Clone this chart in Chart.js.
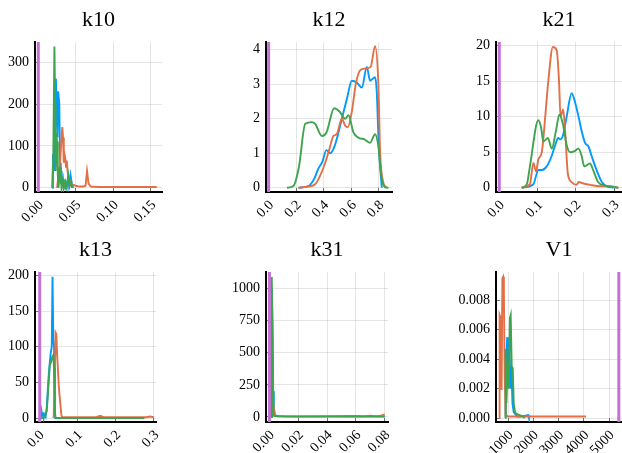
<!DOCTYPE html>
<html>
<head>
<meta charset="utf-8">
<script src="https://cdn.jsdelivr.net/npm/chart.js@4.4.1/dist/chart.umd.min.js"></script>
<style>
html, body { margin: 0; padding: 0; background: #fff; overflow: hidden; }
#wrap { position: relative; width: 622px; height: 453px; overflow: hidden; }
canvas { position: absolute; }
</style>
</head>
<body>
<div id="wrap"></div>
<script>
// chain colours (julia default palette)
const colBlue = '#009AFA', colOrange = '#E36F47', colGreen = '#3EA44E', colPurple = '#C371D2';
const SERIF = "'Liberation Serif', 'DejaVu Serif', serif";

// ---- k10 ----
const k10Blue = [[0.0185,0],[0.0195,80],[0.021,40],[0.0225,150],[0.0235,260],[0.0255,120],[0.0265,230],[0.028,200],[0.029,60],[0.030,10],[0.031,40],[0.032,5],[0.034,15],[0.036,0],[0.038,10],[0.040,25],[0.041,5],[0.043,30],[0.045,5],[0.047,0]];
const k10Orange = [[0.025,0],[0.027,30],[0.029,60],[0.031,120],[0.032,145],[0.033,120],[0.034,60],[0.035,80],[0.036,70],[0.037,50],[0.038,65],[0.039,40],[0.041,20],[0.042,5],[0.045,8],[0.050,5],[0.055,3],[0.060,3],[0.063,5],[0.065,40],[0.067,10],[0.070,3],[0.080,2],[0.10,2],[0.12,2],[0.14,2],[0.158,2]];
const k10Green = [[0.0185,0],[0.020,80],[0.0215,337],[0.0225,200],[0.023,40],[0.024,130],[0.025,110],[0.026,30],[0.027,0],[0.029,50],[0.030,20],[0.031,0],[0.033,20],[0.034,0],[0.036,15],[0.038,0],[0.040,30],[0.042,5],[0.044,15],[0.045,0]];
const k10True = 0.0;
const k10XTicks = [0, 0.05, 0.10, 0.15], k10XLabels = ['0.00', '0.05', '0.10', '0.15'];
const k10YTicks = [0, 100, 200, 300], k10YLabels = ['0', '100', '200', '300'];

// ---- k12 ----
const k12Blue = [[0.217,0],[0.29,0.05],[0.33,0.25],[0.362,0.56],[0.39,0.75],[0.42,1.09],[0.447,1.0],[0.483,1.25],[0.532,2.0],[0.57,2.6],[0.604,3.1],[0.64,3.05],[0.677,2.9],[0.713,3.5],[0.737,3.1],[0.773,3.2],[0.785,2.8],[0.80,1.2],[0.822,0]];
const k12Orange = [[0.217,0],[0.28,0.03],[0.338,0.1],[0.40,0.6],[0.44,1.1],[0.471,1.5],[0.495,1.55],[0.532,2.0],[0.556,1.8],[0.575,1.75],[0.604,2.2],[0.633,3.0],[0.664,3.4],[0.70,3.45],[0.741,3.5],[0.773,4.1],[0.797,3.0],[0.81,1.0],[0.83,0.2],[0.855,0]];
const k12Green = [[0.133,0],[0.18,0.05],[0.22,0.6],[0.266,1.85],[0.314,1.9],[0.338,1.85],[0.387,1.5],[0.42,1.6],[0.476,2.3],[0.516,2.2],[0.556,2.0],[0.58,2.1],[0.616,1.6],[0.652,1.45],[0.696,1.4],[0.737,1.3],[0.773,1.55],[0.797,1.2],[0.82,0.3],[0.845,0.02],[0.87,0]];
const k12True = 0.0;
const k12XTicks = [0, 0.2, 0.4, 0.6, 0.8], k12XLabels = ['0.0', '0.2', '0.4', '0.6', '0.8'];
const k12YTicks = [0, 1, 2, 3, 4], k12YLabels = ['0', '1', '2', '3', '4'];

// ---- k21 ----
const k21Blue = [[0.0586,0],[0.089,0.5],[0.102,2.5],[0.111,2.5],[0.124,3.0],[0.137,4.5],[0.146,6.0],[0.154,7.0],[0.159,6.8],[0.167,7.5],[0.176,10],[0.189,13.3],[0.198,12],[0.207,10],[0.215,8],[0.224,6.3],[0.233,5.8],[0.241,4.5],[0.254,2.5],[0.268,0.8],[0.281,0.2],[0.298,0]];
const k21Orange = [[0.0586,0],[0.08,0.5],[0.089,3.5],[0.096,2.3],[0.102,4],[0.111,5],[0.12,10],[0.128,15],[0.14,19.8],[0.15,19.3],[0.156,15],[0.16,10],[0.167,11],[0.172,8],[0.179,2],[0.189,0.8],[0.202,0.4],[0.207,0.8],[0.22,0.6],[0.237,0.4],[0.263,0.2],[0.29,0.2],[0.311,0]];
const k21Green = [[0.0586,0],[0.072,0.5],[0.08,3],[0.102,9.5],[0.109,8.5],[0.115,6.5],[0.127,7],[0.137,5.5],[0.148,8],[0.157,10.3],[0.166,9],[0.176,6],[0.185,5],[0.198,5.2],[0.207,5.5],[0.215,4.5],[0.222,3],[0.237,3.4],[0.245,2.5],[0.258,0.8],[0.276,0.3],[0.298,0.1],[0.311,0]];
const k21True = 0.0;
const k21XTicks = [0, 0.1, 0.2, 0.3], k21XLabels = ['0.0', '0.1', '0.2', '0.3'];
const k21YTicks = [0, 5, 10, 15, 20], k21YLabels = ['0', '5', '10', '15', '20'];

// ---- k13 ----
const k13Blue = [[0.002,8],[0.004,2],[0.006,10],[0.008,3],[0.010,8],[0.012,0],[0.014,5],[0.017,2],[0.020,15],[0.025,60],[0.030,90],[0.033,100],[0.035,198],[0.037,110],[0.039,100],[0.041,20],[0.042,0],[0.10,0],[0.20,0],[0.27,0]];
const k13Orange = [[0.038,0],[0.041,60],[0.043,120],[0.045,118],[0.047,90],[0.052,40],[0.058,5],[0.060,1],[0.10,1],[0.15,1.5],[0.16,3],[0.17,1],[0.25,1],[0.28,1],[0.29,2],[0.30,1]];
const k13Green = [[0.0,0],[0.010,0],[0.015,2],[0.020,10],[0.025,50],[0.028,75],[0.031,78],[0.034,85],[0.037,88],[0.039,70],[0.041,10],[0.043,0],[0.275,0]];
const k13True = 0.0015;
const k13XTicks = [0, 0.1, 0.2, 0.3], k13XLabels = ['0.0', '0.1', '0.2', '0.3'];
const k13YTicks = [0, 50, 100, 150, 200], k13YLabels = ['0', '50', '100', '150', '200'];

// ---- k31 ----
const k31Blue = [[0.0012,0],[0.0017,1000],[0.0025,200],[0.003,20],[0.004,15],[0.006,5],[0.08,3]];
const k31Orange = [[0.0012,0],[0.0018,900],[0.0026,100],[0.004,10],[0.01,5],[0.02,3],[0.04,5],[0.06,8],[0.065,5],[0.07,10],[0.075,5],[0.078,12],[0.08,20]];
const k31Green = [[0.0012,0],[0.0016,1090],[0.0022,600],[0.0028,10],[0.005,5],[0.08,5]];
const k31True = 0.0;
const k31XTicks = [0, 0.02, 0.04, 0.06, 0.08], k31XLabels = ['0.00', '0.02', '0.04', '0.06', '0.08'];
const k31YTicks = [0, 250, 500, 750, 1000], k31YLabels = ['0', '250', '500', '750', '1000'];

// ---- V1 ----
const v1Blue = [[900,0],[930,0.004],[960,0.0055],[990,0.003],[1020,0.0052],[1060,0.004],[1100,0.002],[1130,0.0035],[1170,0.001],[1220,0.0004],[1270,0.0003],[1350,0.0001],[1500,0.0001],[1790,0.0002],[1820,0]];
const v1Orange = [[640,0],[660,0.007],[700,0.0068],[740,0.0019],[770,0.0095],[800,0.0096],[830,0.0085],[860,0.003],[900,0.0002],[1000,0.0001],[2000,0.0001],[3000,0.0001],[4080,0.0001]];
const v1Green = [[880,0],[900,0.0047],[930,0.001],[970,0.003],[1000,0.004],[1030,0.002],[1070,0.0068],[1100,0.007],[1140,0.0035],[1180,0.0034],[1220,0.001],[1270,0.0004],[1310,0.0003],[1450,0.0002],[1600,0.0001],[1650,0]];
const v1True = 5380;
const v1XTicks = [1000, 2000, 3000, 4000, 5000], v1XLabels = ['1000', '2000', '3000', '4000', '5000'];
const v1YTicks = [0, 0.002, 0.004, 0.006, 0.008], v1YLabels = ['0.000', '0.002', '0.004', '0.006', '0.008'];

const wrap = document.getElementById('wrap');
const YW = 60, XH = 40, TOP = 42, PH = 150, RP = 14;

// title centred over the plot area
const panelTitle = {
  id: 'panelTitle',
  afterDraw(chart, args, o) {
    const ca = chart.chartArea, ctx = chart.ctx;
    ctx.save();
    ctx.font = '22px ' + SERIF;
    ctx.fillStyle = '#000';
    ctx.textAlign = 'center';
    ctx.textBaseline = 'middle';
    ctx.fillText(o.text, (ca.left + ca.right) / 2, 20);
    ctx.restore();
  }
};

function axisOpts(min, max, ticks, labels, isX) {
  return {
    type: 'linear', min: min, max: max,
    afterBuildTicks: s => { s.ticks = ticks.map(v => ({ value: v })); },
    afterFit: s => { if (isX) s.height = XH; else s.width = YW; },
    ticks: {
      autoSkip: false,
      color: '#000',
      font: { family: SERIF, size: 14 },
      padding: isX ? 9 : 10,
      maxRotation: isX ? 45 : 0, minRotation: isX ? 45 : 0,
      labelOffset: isX ? 3 : 0,
      callback: (v, i) => labels[i]
    },
    grid: { color: 'rgba(0,0,0,0.1)', lineWidth: 1, tickLength: -4, tickColor: 'rgba(0,0,0,0.5)', tickWidth: 1 },
    border: { display: true, color: '#000', width: 2 }
  };
}

function makePanel(p) {
  const c = document.createElement('canvas');
  c.width = YW + p.w + RP;
  c.height = TOP + PH + XH;
  c.style.left = (p.left - YW) + 'px';
  c.style.top = p.top + 'px';
  wrap.appendChild(c);

  // later chains are drawn on top (higher order = drawn first)
  const lines = [[p.blue, colBlue, 4], [p.orange, colOrange, 3], [p.green, colGreen, 2]];
  const datasets = lines.map(l => ({
    data: l[0].map(q => ({ x: q[0], y: q[1] })),
    borderColor: l[1], order: l[2], borderWidth: 1.9, pointRadius: 0, fill: false,
    tension: p.smooth ? 0.4 : 0, cubicInterpolationMode: p.smooth ? 'monotone' : 'default'
  }));
  // vertical reference line
  datasets.push({
    data: [{ x: p.vline, y: p.ymin }, { x: p.vline, y: p.ymax }],
    borderColor: colPurple, order: 1, borderWidth: 3, pointRadius: 0, fill: false
  });

  new Chart(c, {
    type: 'line',
    data: { datasets: datasets },
    options: {
      responsive: false, animation: false, devicePixelRatio: 1,
      layout: { padding: { left: 0, right: RP, top: TOP, bottom: 0 } },
      plugins: { legend: { display: false }, tooltip: { enabled: false }, panelTitle: { text: p.title } },
      scales: {
        x: axisOpts(p.xmin, p.xmax, p.xTicks, p.xLabels, true),
        y: axisOpts(p.ymin, p.ymax, p.yTicks, p.yLabels, false)
      }
    },
    plugins: [panelTitle]
  });
}

makePanel({ title: 'k10', left: 35, top: 0, w: 127, blue: k10Blue, orange: k10Orange, green: k10Green, vline: k10True,
  xmin: -0.0044, xmax: 0.165, xTicks: k10XTicks, xLabels: k10XLabels, ymin: -10, ymax: 348, yTicks: k10YTicks, yLabels: k10YLabels });
makePanel({ title: 'k12', left: 266, top: 0, w: 126, smooth: true, blue: k12Blue, orange: k12Orange, green: k12Green, vline: k12True,
  xmin: -0.019, xmax: 0.896, xTicks: k12XTicks, xLabels: k12XLabels, ymin: -0.123, ymax: 4.22, yTicks: k12YTicks, yLabels: k12YLabels });
makePanel({ title: 'k21', left: 496, top: 0, w: 126, smooth: true, blue: k21Blue, orange: k21Orange, green: k21Green, vline: k21True,
  xmin: -0.0086, xmax: 0.3205, xTicks: k21XTicks, xLabels: k21XLabels, ymin: -0.6, ymax: 20.5, yTicks: k21YTicks, yLabels: k21YLabels });
makePanel({ title: 'k13', left: 35, top: 230, w: 126, blue: k13Blue, orange: k13Orange, green: k13Green, vline: k13True,
  xmin: -0.0108, xmax: 0.3058, xTicks: k13XTicks, xLabels: k13XLabels, ymin: -5.6, ymax: 204.8, yTicks: k13YTicks, yLabels: k13YLabels });
makePanel({ title: 'k31', left: 266, top: 230, w: 126, blue: k31Blue, orange: k31Orange, green: k31Green, vline: k31True,
  xmin: -0.0024, xmax: 0.0823, xTicks: k31XTicks, xLabels: k31XLabels, ymin: -39, ymax: 1129, yTicks: k31YTicks, yLabels: k31YLabels });
makePanel({ title: 'V1', left: 496, top: 230, w: 126, blue: v1Blue, orange: v1Orange, green: v1Green, vline: v1True,
  xmin: 518, xmax: 5506, xTicks: v1XTicks, xLabels: v1XLabels, ymin: -0.00027, ymax: 0.00993, yTicks: v1YTicks, yLabels: v1YLabels });
</script>
</body>
</html>
